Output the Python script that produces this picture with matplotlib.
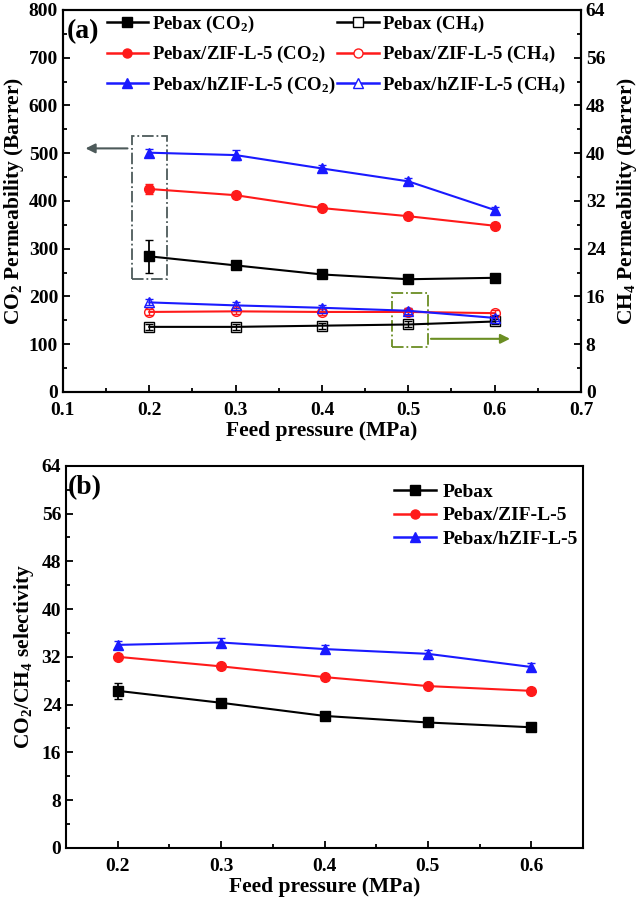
import matplotlib.pyplot as plt
from matplotlib.lines import Line2D
from matplotlib.patches import Rectangle
from matplotlib.ticker import MultipleLocator

plt.rcParams['font.family'] = ['Liberation Serif', 'DejaVu Serif']
plt.rcParams['font.weight'] = 'bold'
plt.rcParams['mathtext.default'] = 'regular'

pressure = [0.2, 0.3, 0.4, 0.5, 0.6]

# CO2 permeability (Barrer)
co2_pebax = [284, 265, 246, 236, 239]
co2_zif = [425, 412, 385, 368, 348]
co2_hzif = [501, 496, 468, 441, 381]
co2_pebax_err = [35, 6, 6, 5, 6]
co2_zif_err = [10, 6, 5, 5, 5]
co2_hzif_err = [8, 10, 8, 8, 6]

# CH4 permeability (Barrer)
ch4_pebax = [10.9, 10.9, 11.1, 11.3, 11.8]
ch4_zif = [13.4, 13.5, 13.4, 13.4, 13.2]
ch4_hzif = [15.0, 14.5, 14.1, 13.6, 12.4]
ch4_err = [0.5, 0.5, 0.5, 0.5, 0.5]

# CO2/CH4 selectivity
sel_pebax = [26.3, 24.3, 22.1, 21.0, 20.2]
sel_zif = [32.0, 30.4, 28.6, 27.1, 26.3]
sel_hzif = [34.0, 34.4, 33.3, 32.5, 30.3]
sel_pebax_err = [1.3, 0.4, 0.4, 0.4, 0.4]
sel_zif_err = [0.4, 0.4, 0.4, 0.4, 0.4]
sel_hzif_err = [0.6, 0.7, 0.6, 0.6, 0.6]

colors = ['black', '#ff1a1a', '#1a1aff']
markers = ['s', 'o', '^']
names = ['Pebax', 'Pebax/ZIF-L-5', 'Pebax/hZIF-L-5']

fig = plt.figure(figsize=(6.42, 9.01), dpi=100)


def style_ticks(ax):
    ax.tick_params(axis='both', which='both', direction='in', labelsize=14,
                   width=1.3, top=False)
    ax.tick_params(which='major', length=5)
    ax.tick_params(which='minor', length=3)
    ax.tick_params(axis='x', pad=7)
    for sp in ax.spines.values():
        sp.set_linewidth(1.5)


def legend_handle(c, m, filled=True):
    return Line2D([], [], color=c, marker=m, ms=6.5, lw=1.8,
                  mfc=c if filled else 'white')


label_font = {'fontsize': 15.5, 'fontweight': 'bold'}

# ---- panel (a)
ax1 = fig.add_axes([0.098, 0.565, 0.807, 0.424])
ax2 = ax1.twinx()

for co2, co2_err, ch4, c, m in zip(
        [co2_pebax, co2_zif, co2_hzif], [co2_pebax_err, co2_zif_err, co2_hzif_err],
        [ch4_pebax, ch4_zif, ch4_hzif], colors, markers):
    ax1.errorbar(pressure, co2, yerr=co2_err, color=c, marker=m, ms=7,
                 lw=1.5, capsize=3, elinewidth=1.3)
    ax2.errorbar(pressure, ch4, yerr=ch4_err, color=c, marker=m, ms=7,
                 mfc='none', lw=1.5, capsize=3, elinewidth=1.0)

ax1.set_xlim(0.1, 0.7)
ax1.set_ylim(0, 800)
ax2.set_ylim(0, 64)
ax1.xaxis.set_major_locator(MultipleLocator(0.1))
ax1.xaxis.set_minor_locator(MultipleLocator(0.05))
ax1.yaxis.set_major_locator(MultipleLocator(100))
ax1.yaxis.set_minor_locator(MultipleLocator(50))
ax2.yaxis.set_major_locator(MultipleLocator(8))
ax2.yaxis.set_minor_locator(MultipleLocator(4))
style_ticks(ax1)
style_ticks(ax2)
ax1.tick_params(axis='y', which='both', right=False)
ax2.tick_params(axis='y', which='both', left=False)
ax1.set_xlabel('Feed pressure (MPa)', labelpad=2, **label_font)
ax1.set_ylabel('CO$_2$ Permeability (Barrer)', labelpad=2, **label_font)
ax2.set_ylabel('CH$_4$ Permeability (Barrer)', labelpad=7, **label_font)

ax1.text(0.008, 0.975, '(a)', transform=ax1.transAxes, fontsize=20,
         fontweight='bold', va='top', ha='left')

leg_handles = ([legend_handle(c, m) for c, m in zip(colors, markers)]
               + [legend_handle(c, m, False) for c, m in zip(colors, markers)])
leg_labels = ([n + ' (CO$_2$)' for n in names]
              + [n + ' (CH$_4$)' for n in names])
ax1.legend(leg_handles, leg_labels, ncol=2, loc='upper left',
           bbox_to_anchor=(0.063, 1.02), frameon=False, handlelength=2.2,
           columnspacing=0.1, handletextpad=0.2, labelspacing=0.5,
           borderaxespad=0.2, prop={'weight': 'bold', 'size': 13.5})

# annotation boxes and arrows
ax1.add_patch(Rectangle((0.18, 237), 0.04, 299, fill=False,
                        ls='-.', lw=1.3, color='#4d5a5a'))
ax1.annotate('', xy=(0.123, 510), xytext=(0.178, 510),
             arrowprops=dict(arrowstyle='-|>', color='#4d5a5a', lw=1.5,
                             mutation_scale=14))
ax2.add_patch(Rectangle((0.481, 7.5), 0.042, 9.1, fill=False,
                        ls='-.', lw=1.3, color='#6b8e23'))
ax2.annotate('', xy=(0.621, 8.9), xytext=(0.523, 8.9),
             arrowprops=dict(arrowstyle='-|>', color='#6b8e23', lw=1.5,
                             mutation_scale=14))

# ---- panel (b)
ax3 = fig.add_axes([0.103, 0.059, 0.805, 0.424])
for sel, err, c, m in zip([sel_pebax, sel_zif, sel_hzif],
                          [sel_pebax_err, sel_zif_err, sel_hzif_err],
                          colors, markers):
    ax3.errorbar(pressure, sel, yerr=err, color=c, marker=m, ms=7, lw=1.5,
                 capsize=3, elinewidth=1.3)
ax3.set_xlim(0.15, 0.65)
ax3.set_ylim(0, 64)
ax3.xaxis.set_major_locator(MultipleLocator(0.1))
ax3.xaxis.set_minor_locator(MultipleLocator(0.05))
ax3.yaxis.set_major_locator(MultipleLocator(8))
ax3.yaxis.set_minor_locator(MultipleLocator(4))
style_ticks(ax3)
ax3.tick_params(axis='y', which='both', right=False)
ax3.set_xlabel('Feed pressure (MPa)', labelpad=2, **label_font)
ax3.set_ylabel('CO$_2$/CH$_4$ selectivity', labelpad=4, **label_font)
ax3.text(0.004, 0.975, '(b)', transform=ax3.transAxes, fontsize=20,
         fontweight='bold', va='top', ha='left')
ax3.legend([legend_handle(c, m) for c, m in zip(colors, markers)], names,
           loc='upper left', bbox_to_anchor=(0.6, 1.0), frameon=False,
           handlelength=2.2, handletextpad=0.3, labelspacing=0.3,
           prop={'weight': 'bold', 'size': 14})

fig.savefig('out.png', dpi=100)
